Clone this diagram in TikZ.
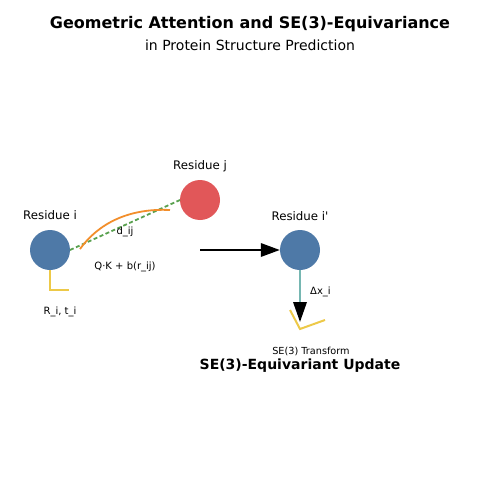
\documentclass[tikz,border=0pt]{standalone}
\usepackage{fontspec}
\setmainfont{DejaVu Sans}[Ligatures=TeXOff]
\usetikzlibrary{arrows.meta}
\definecolor{tblue}{HTML}{4E79A7}
\definecolor{tred}{HTML}{E15759}
\definecolor{tgreen}{HTML}{59A14F}
\definecolor{torange}{HTML}{F28E2B}
\definecolor{tyellow}{HTML}{EDC948}
\definecolor{tteal}{HTML}{76B7B2}
\tikzset{
  residue/.style={circle,minimum size=40pt,inner sep=0pt,fill=#1},
  lbl/.style={inner sep=0pt,font=\fontsize{11.8}{13}\selectfont},
  small/.style={inner sep=0pt,font=\fontsize{10}{12}\selectfont},
  frameline/.style={draw=tyellow,line width=2pt},
}
\begin{document}
\begin{tikzpicture}[x=1pt,y=-1pt]
\useasboundingbox (0,0) rectangle (500,500);
\node[inner sep=0pt,font=\fontsize{16}{19}\bfseries] (title) at (250,24.5) {Geometric Attention and SE(3)-Equivariance};
\node[inner sep=0pt,font=\fontsize{14}{17}\selectfont] (subtitle) at (250,45.5) {in Protein Structure Prediction};

\node[residue=tblue] (ri) at (50,250) {};
\node[residue=tred] (rj) at (200,200) {};
\node[residue=tblue] (rip) at (300,250) {};

\node[lbl] (li) at (50,215.5) {Residue i};
\node[lbl] (lj) at (200,166.5) {Residue j};
\node[lbl] (lip) at (300,216) {Residue i'};

\coordinate (gs) at (70,250);
\coordinate (ge) at (180,200);
\draw[tgreen,line width=1.8pt,dash pattern=on 4pt off 2.5pt] (gs) -- (ge);

\coordinate (os) at (80,249);
\coordinate (oe) at (170,210);
\draw[torange,line width=1.8pt] (os) .. controls (98,224) and (128,208) .. (oe);

\node[small] (dij) at (125,231.5) {d\_ij};
\node[small] (qk) at (125,266.5) {Q·K + b(r\_ij)};

\coordinate (fi1) at (50,290);
\coordinate (fi2) at (69,290);
\draw[frameline] (ri.south) -- (fi1) -- (fi2);
\node[small] (rt) at (60,311.5) {R\_i, t\_i};

\coordinate (as) at (200,250);
\draw[black,line width=1.8pt,-{Triangle[length=19pt,width=13.5pt]}] (as) -- (rip.west);

\coordinate (dtip) at (300,322);
\draw[tteal,line width=1.8pt,-{Triangle[length=20pt,width=13.5pt,color=black]}] (rip.south) -- (dtip);
\node[small] (dx) at (320.5,291.5) {Δx\_i};

\coordinate (fa) at (290,310);
\coordinate (fb) at (300,329);
\coordinate (fc) at (325,320);
\draw[frameline] (fa) -- (fb) -- (fc);

\node[small,font=\fontsize{9.7}{11}\selectfont] (se3t) at (311,351.5) {SE(3) Transform};
\node[inner sep=0pt,font=\fontsize{14}{17}\bfseries] (upd) at (300,365.5) {SE(3)-Equivariant Update};
\end{tikzpicture}
\end{document}
